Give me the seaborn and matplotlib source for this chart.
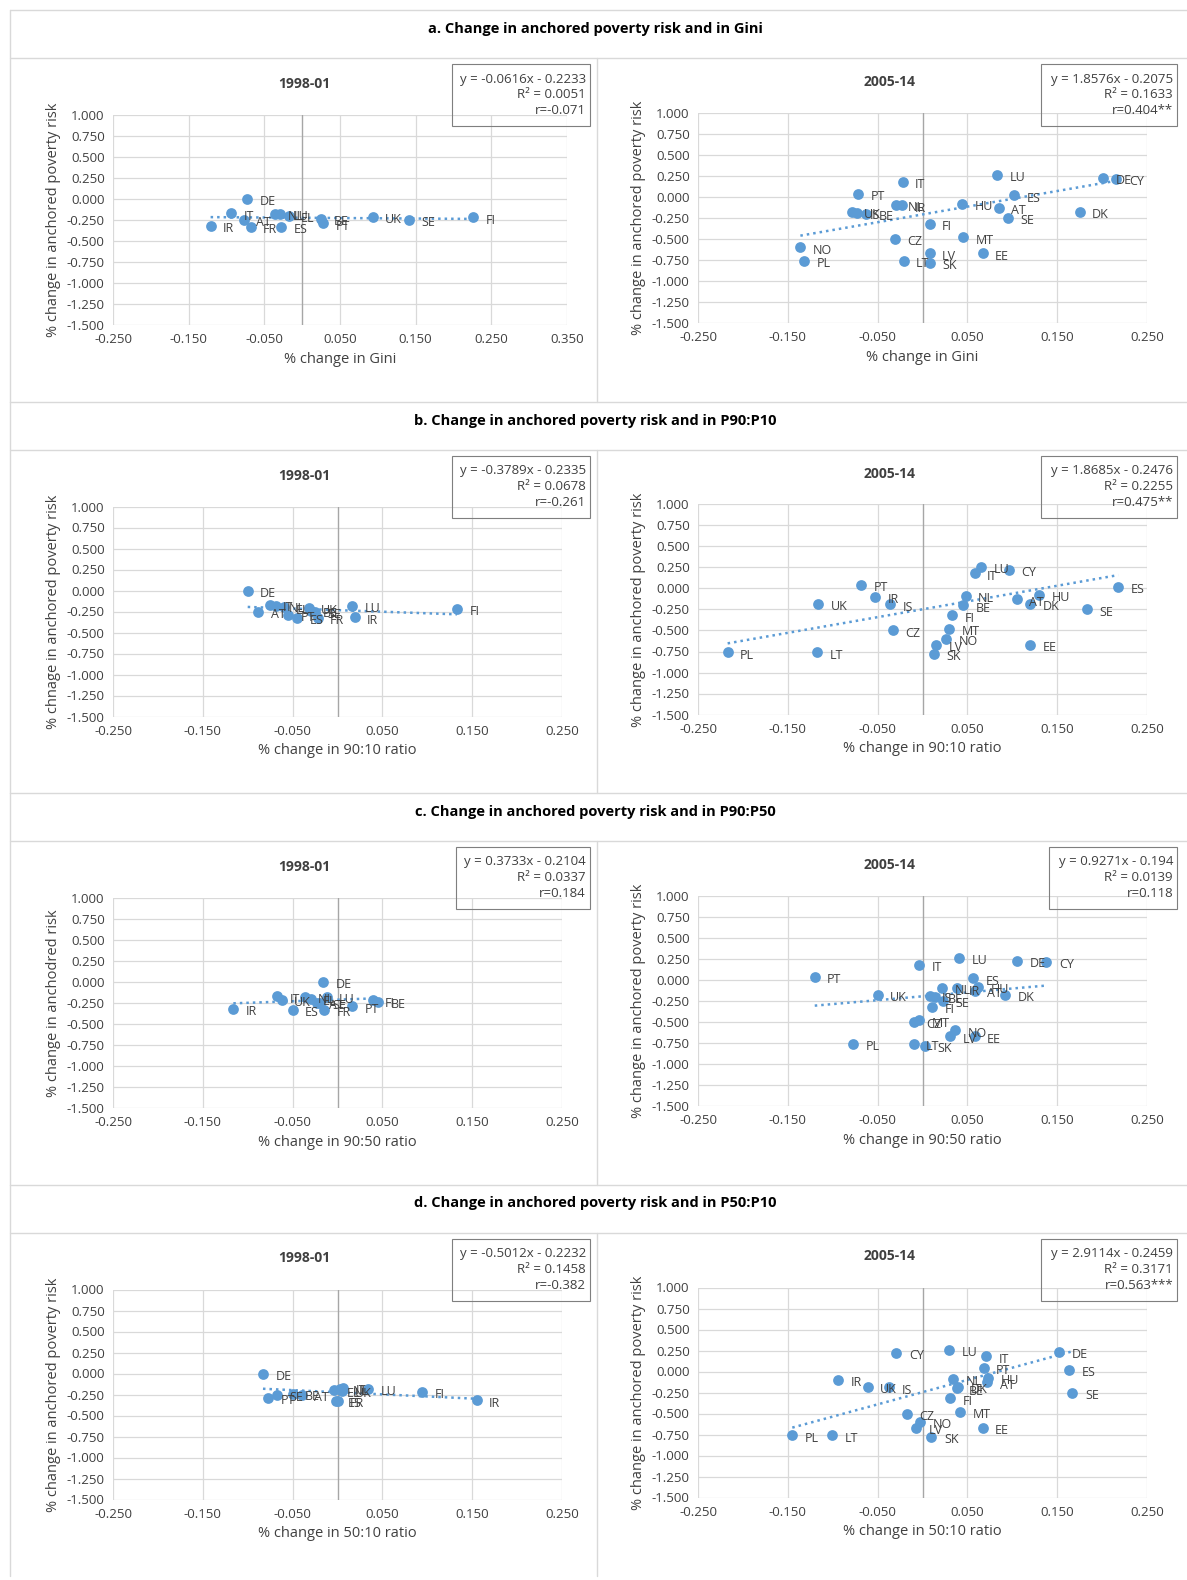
import matplotlib.pyplot as plt
import matplotlib.ticker as mticker
from matplotlib.lines import Line2D
from matplotlib.patches import Rectangle
import seaborn as sns
import numpy as np
import pandas as pd

sns.set_style("white")
plt.rcParams['font.family'] = ['Open Sans', 'DejaVu Sans']

# y: % change in anchored poverty risk, per country and period
y_9801 = {'DE': 0.00, 'IT': -0.17, 'NL': -0.18, 'LU': -0.18, 'EL': -0.20, 'UK': -0.21,
          'FI': -0.22, 'AT': -0.25, 'BE': -0.24, 'SE': -0.25, 'PT': -0.29, 'IR': -0.32,
          'FR': -0.33, 'ES': -0.33}
y_0514 = {'LU': 0.26, 'DE': 0.23, 'CY': 0.22, 'IT': 0.18, 'PT': 0.04, 'ES': 0.02,
          'NL': -0.09, 'IR': -0.10, 'HU': -0.08, 'AT': -0.13, 'DK': -0.18, 'UK': -0.18,
          'IS': -0.19, 'BE': -0.20, 'SE': -0.25, 'FI': -0.32, 'CZ': -0.50, 'MT': -0.48,
          'NO': -0.60, 'LV': -0.67, 'EE': -0.67, 'PL': -0.76, 'LT': -0.76, 'SK': -0.78}

# x values per panel
gini_9801 = {'IR': -0.121, 'IT': -0.094, 'AT': -0.077, 'DE': -0.073, 'FR': -0.068, 'NL': -0.036,
             'LU': -0.029, 'ES': -0.028, 'EL': -0.018, 'BE': 0.025, 'PT': 0.028, 'UK': 0.093,
             'SE': 0.141, 'FI': 0.226}
gini_0514 = {'LU': 0.083, 'DE': 0.201, 'CY': 0.216, 'IT': -0.022, 'PT': -0.072, 'ES': 0.102,
             'NL': -0.030, 'IR': -0.023, 'HU': 0.044, 'AT': 0.085, 'DK': 0.175, 'UK': -0.079,
             'IS': -0.073, 'BE': -0.063, 'SE': 0.095, 'FI': 0.008, 'CZ': -0.031, 'MT': 0.045,
             'NO': -0.136, 'LV': 0.008, 'EE': 0.067, 'PL': -0.132, 'LT': -0.021, 'SK': 0.008}
p9010_9801 = {'DE': -0.100, 'AT': -0.088, 'IT': -0.075, 'NL': -0.068, 'EL': -0.060, 'PT': -0.055,
              'ES': -0.045, 'UK': -0.032, 'BE': -0.030, 'SE': -0.025, 'FR': -0.022, 'LU': 0.016,
              'IR': 0.019, 'FI': 0.133}
p9010_0514 = {'LU': 0.065, 'IT': 0.058, 'CY': 0.096, 'PT': -0.068, 'IR': -0.053, 'UK': -0.116,
              'IS': -0.036, 'NL': 0.048, 'BE': 0.045, 'FI': 0.033, 'AT': 0.105, 'HU': 0.130,
              'DK': 0.120, 'ES': 0.218, 'SE': 0.183, 'CZ': -0.033, 'MT': 0.030, 'NO': 0.026,
              'LV': 0.015, 'SK': 0.013, 'EE': 0.120, 'PL': -0.217, 'LT': -0.117}
p9050_9801 = {'IR': -0.116, 'IT': -0.067, 'UK': -0.062, 'ES': -0.050, 'NL': -0.036, 'EL': -0.030,
              'AT': -0.023, 'SE': -0.020, 'DE': -0.016, 'FR': -0.015, 'LU': -0.012, 'PT': 0.016,
              'FI': 0.039, 'BE': 0.045}
p9050_0514 = {'IT': -0.004, 'LU': 0.041, 'DE': 0.105, 'CY': 0.138, 'PT': -0.120, 'ES': 0.056,
              'NL': 0.022, 'AT': 0.058, 'HU': 0.062, 'IR': 0.038, 'DK': 0.092, 'UK': -0.050,
              'IS': 0.008, 'BE': 0.014, 'SE': 0.023, 'FI': 0.011, 'CZ': -0.010, 'MT': -0.004,
              'NO': 0.036, 'LV': 0.031, 'EE': 0.058, 'PL': -0.077, 'LT': -0.010, 'SK': 0.003}
p5010_9801 = {'DE': -0.083, 'PT': -0.077, 'SE': -0.067, 'BE': -0.050, 'AT': -0.040, 'EL': -0.004,
              'ES': -0.002, 'FR': 0.000, 'NL': 0.003, 'UK': 0.005, 'IT': 0.006, 'LU': 0.034,
              'FI': 0.094, 'IR': 0.155}
p5010_0514 = {'CY': -0.029, 'LU': 0.030, 'IT': 0.071, 'DE': 0.152, 'PT': 0.068, 'ES': 0.163,
              'SE': 0.167, 'IR': -0.094, 'UK': -0.061, 'IS': -0.037, 'NL': 0.034, 'HU': 0.073,
              'AT': 0.072, 'BE': 0.038, 'DK': 0.040, 'FI': 0.031, 'MT': 0.042, 'CZ': -0.017,
              'NO': -0.003, 'LV': -0.007, 'EE': 0.067, 'PL': -0.145, 'LT': -0.101, 'SK': 0.010}

section_titles = ["a. Change in anchored poverty risk and in Gini",
                  "b. Change in anchored poverty risk and in P90:P10",
                  "c. Change in anchored poverty risk and in P90:P50",
                  "d. Change in anchored poverty risk and in P50:P10"]
x_labels = ["% change in Gini", "% change in 90:10 ratio",
            "% change in 90:50 ratio", "% change in 50:10 ratio"]
left_ylabels = ["% change in anchored poverty risk", "% chnage in anchored poverty risk",
                "% change in anchodred risk", "% change in anchored poverty risk"]
right_ylabel = "% change in anchored poverty risk"
left_x = [gini_9801, p9010_9801, p9050_9801, p5010_9801]
right_x = [gini_0514, p9010_0514, p9050_0514, p5010_0514]
slopes_l = [-0.0616, -0.3789, 0.3733, -0.5012]
icpt_l = [-0.2233, -0.2335, -0.2104, -0.2232]
slopes_r = [1.8576, 1.8685, 0.9271, 2.9114]
icpt_r = [-0.2075, -0.2476, -0.194, -0.2459]
eq_l = ["y = -0.0616x - 0.2233\nR² = 0.0051\nr=-0.071",
        "y = -0.3789x - 0.2335\nR² = 0.0678\nr=-0.261",
        "y = 0.3733x - 0.2104\nR² = 0.0337\nr=0.184",
        "y = -0.5012x - 0.2232\nR² = 0.1458\nr=-0.382"]
eq_r = ["y = 1.8576x - 0.2075\nR² = 0.1633\nr=0.404**",
        "y = 1.8685x - 0.2476\nR² = 0.2255\nr=0.475**",
        "y = 0.9271x - 0.194\nR² = 0.0139\nr=0.118",
        "y = 2.9114x - 0.2459\nR² = 0.3171\nr=0.563***"]

W, H = 1187, 1580
fig = plt.figure(figsize=(W / 100, H / 100), dpi=100)
BLUE = '#5B9BD5'
GRID = '#D9D9D9'


def px_axes(x0, y0, x1, y1):
    return fig.add_axes([x0 / W, 1 - y1 / H, (x1 - x0) / W, (y1 - y0) / H])


def hline(y, x0=10, x1=1187):
    fig.add_artist(Line2D([x0 / W, x1 / W], [1 - y / H, 1 - y / H], color=GRID, lw=1))


def vline(x, y0, y1):
    fig.add_artist(Line2D([x / W, x / W], [1 - y0 / H, 1 - y1 / H], color=GRID, lw=1))


def panel(ax, xd, yd, slope, icpt, xlim, ylabel, xlabel):
    df = pd.DataFrame({'c': list(xd.keys()), 'x': list(xd.values())})
    df['y'] = df['c'].map(yd)
    sns.scatterplot(data=df, x='x', y='y', ax=ax, color=BLUE, s=60, edgecolor=BLUE,
                    linewidth=0, zorder=3)
    for _, r in df.iterrows():
        ax.annotate(r['c'], (r['x'], r['y']), xytext=(9, -4.5), textcoords='offset points',
                    fontsize=9, color='#404040', zorder=4)
    xs = np.array([df['x'].min(), df['x'].max()])
    ax.plot(xs, slope * xs + icpt, ls=(0, (1, 1.6)), color=BLUE, lw=1.8, zorder=2)
    ax.set_xlim(*xlim)
    ax.set_ylim(-1.5, 1.0)
    ax.set_xticks(np.arange(xlim[0], xlim[1] + 1e-9, 0.1))
    ax.set_yticks(np.arange(-1.5, 1.0 + 1e-9, 0.25))
    ax.xaxis.set_major_formatter(mticker.FormatStrFormatter('%.3f'))
    ax.yaxis.set_major_formatter(mticker.FormatStrFormatter('%.3f'))
    ax.grid(True, color=GRID, lw=0.9)
    ax.axvline(0, color='#A6A6A6', lw=1, zorder=1)
    for s in ax.spines.values():
        s.set_visible(False)
    ax.tick_params(labelsize=9.5, colors='#404040', length=0, pad=6)
    ax.set_xlabel(xlabel, fontsize=10.5, color='#404040')
    ax.set_ylabel(ylabel, fontsize=10.5, color='#404040')


sec_h = 391.5
for i in range(4):
    top = 10 + i * sec_h
    hline(top)
    hline(top + 48)
    vline(10, top, top + sec_h)
    vline(597, top + 48, top + sec_h)
    fig.text(595 / W, 1 - (top + 19) / H, section_titles[i], ha='center', va='center',
             fontsize=10.5, fontweight='bold', color='black')
    fig.text(304 / W, 1 - (top + 74) / H, "1998-01", ha='center', va='center',
             fontsize=10, fontweight='bold', color='#404040')
    fig.text(890 / W, 1 - (top + 72) / H, "2005-14", ha='center', va='center',
             fontsize=10, fontweight='bold', color='#404040')
    lx1 = 567 if i == 0 else 562
    lxlim = (-0.25, 0.35) if i == 0 else (-0.25, 0.25)
    axl = px_axes(113, top + 105, lx1, top + 315)
    panel(axl, left_x[i], y_9801, slopes_l[i], icpt_l[i], lxlim, left_ylabels[i], x_labels[i])
    axr = px_axes(698, top + 103, 1147, top + 313)
    panel(axr, right_x[i], y_0514, slopes_r[i], icpt_r[i], (-0.25, 0.25), right_ylabel,
          x_labels[i])
    # equation boxes
    for txt, bx in [(eq_l[i], (452 if i != 2 else 456, 590)),
                    (eq_r[i], (1041 if i != 2 else 1049, 1177))]:
        fig.add_artist(Rectangle((bx[0] / W, 1 - (top + 116) / H), (bx[1] - bx[0]) / W, 62 / H,
                                 fill=False, ec='#7F7F7F', lw=0.8))
        fig.text((bx[1] - 4) / W, 1 - (top + 85) / H, txt, ha='right', va='center',
                 fontsize=9.5, color='#404040', linespacing=1.3)

fig.savefig('out.png', dpi=100)
